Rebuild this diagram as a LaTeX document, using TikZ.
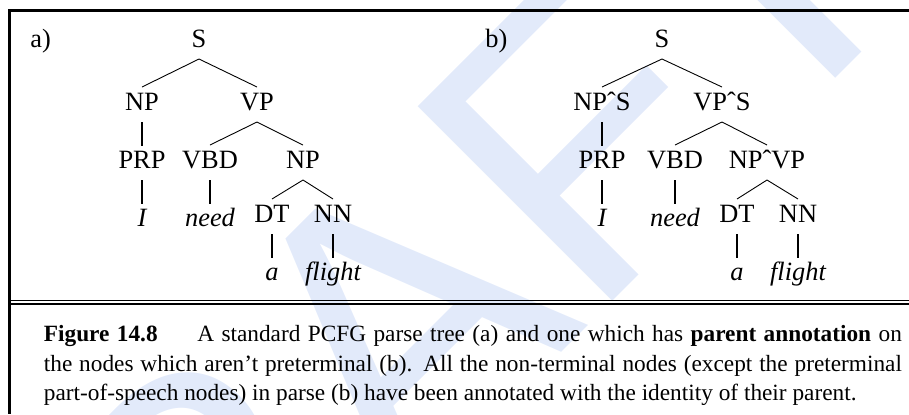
\documentclass[tikz,border=0pt]{standalone}
\usepackage{fontspec}
\setmainfont{Liberation Serif}
\newfontfamily\wmfont{Liberation Sans}
\usetikzlibrary{calc}
\definecolor{wmblue}{RGB}{226,234,250}
\tikzset{
  tlabel/.style={inner sep=0pt, anchor=base, font=\fontsize{13.2pt}{15pt}\selectfont},
  tword/.style={inner sep=0pt, anchor=base, font=\fontsize{13.2pt}{15pt}\selectfont\itshape},
  branch/.style={line width=0.45pt},
  stemline/.style={line width=0.75pt},
  wmark/.style={inner sep=0pt, text=wmblue, font=\wmfont\fontsize{200pt}{200pt}\selectfont, rotate=45},
  capline/.style={inner sep=0pt, anchor=base west, font=\fontsize{11.65pt}{14pt}\selectfont},
  framerule/.style={line width=1.3pt},
  thinrule/.style={line width=0.75pt},
}
\newcommand\tbranch[2]{\draw[branch] ($(#1.base)+(0,12)$) -- ($(#2.base)+(0,-23)$);}
\newcommand\tstem[2]{\draw[stemline] ($(#1.base)+(0,12)$) -- ($(#2.base)+(0,-22)$);}
\begin{document}
\begin{tikzpicture}[x=0.5pt,y=-0.5pt]
\useasboundingbox (0,0) rectangle (909,414);
% watermark
\begin{scope}
\clip (0,0) rectangle (909,414);
\node[wmark, anchor=base] (wmA) at (495,419) {A};
\node[wmark, anchor=base east] (wmDR) at (wmA.base west) {DR};
\node[wmark, anchor=base west] (wmFT) at (wmA.base east) {FT};
\end{scope}
% frame
\draw[framerule] (8,10.5) -- (909,10.5);
\draw[framerule] (9.7,9.9) -- (9.7,414);
\draw[thinrule] (9.7,300.5) -- (909,300.5);
\draw[thinrule] (9.7,304.2) -- (909,304.2);
% tree a
\node[tlabel, anchor=base west] (la) at (30,47) {a)};
\node[tlabel] (aS) at (199,47) {S};
\node[tlabel] (aNP) at (142,110) {NP};
\node[tlabel] (aVP) at (257,110) {VP};
\node[tlabel] (aPRP) at (142,168) {PRP};
\node[tlabel] (aVBD) at (210,168) {VBD};
\node[tlabel] (aNPb) at (303,168) {NP};
\node[tword] (aI) at (142,226) {I};
\node[tword] (aneed) at (210,226) {need};
\node[tlabel] (aDT) at (272,222) {DT};
\node[tlabel] (aNN) at (333,222) {NN};
\node[tword] (aa) at (272,280) {a};
\node[tword] (aflight) at (333,280) {flight};
\tbranch{aS}{aNP}
\tbranch{aS}{aVP}
\tstem{aNP}{aPRP}
\tbranch{aVP}{aVBD}
\tbranch{aVP}{aNPb}
\tstem{aPRP}{aI}
\tstem{aVBD}{aneed}
\tbranch{aNPb}{aDT}
\tbranch{aNPb}{aNN}
\tstem{aDT}{aa}
\tstem{aNN}{aflight}
% tree b
\node[tlabel, anchor=base west] (lb) at (485,47) {b)};
\node[tlabel] (bS) at (662,47) {S};
\node[tlabel] (bNP) at (602,110) {NPˆS};
\node[tlabel] (bVP) at (722,110) {VPˆS};
\node[tlabel] (bPRP) at (602,168) {PRP};
\node[tlabel] (bVBD) at (675,168) {VBD};
\node[tlabel] (bNPb) at (767,168) {NPˆVP};
\node[tword] (bI) at (602,226) {I};
\node[tword] (bneed) at (675,226) {need};
\node[tlabel] (bDT) at (737,222) {DT};
\node[tlabel] (bNN) at (798,222) {NN};
\node[tword] (ba) at (737,280) {a};
\node[tword] (bflight) at (798,280) {flight};
\tbranch{bS}{bNP}
\tbranch{bS}{bVP}
\tstem{bNP}{bPRP}
\tbranch{bVP}{bVBD}
\tbranch{bVP}{bNPb}
\tstem{bPRP}{bI}
\tstem{bVBD}{bneed}
\tbranch{bNPb}{bDT}
\tbranch{bNPb}{bNN}
\tstem{bDT}{ba}
\tstem{bNN}{bflight}
% caption
\node[capline] (cap1) at (43.5,341) {\makebox[429pt][s]{\textbf{Figure 14.8}\hspace{1.7em}A standard PCFG parse tree (a) and one which has \textbf{parent annotation} on}};
\node[capline] (cap2) at (43.5,371) {\makebox[429pt][s]{the nodes which aren’t preterminal (b). All the non-terminal nodes (except the preterminal}};
\node[capline] (cap3) at (43.5,400) {part-of-speech nodes) in parse (b) have been annotated with the identity of their parent.};
\end{tikzpicture}
\end{document}
